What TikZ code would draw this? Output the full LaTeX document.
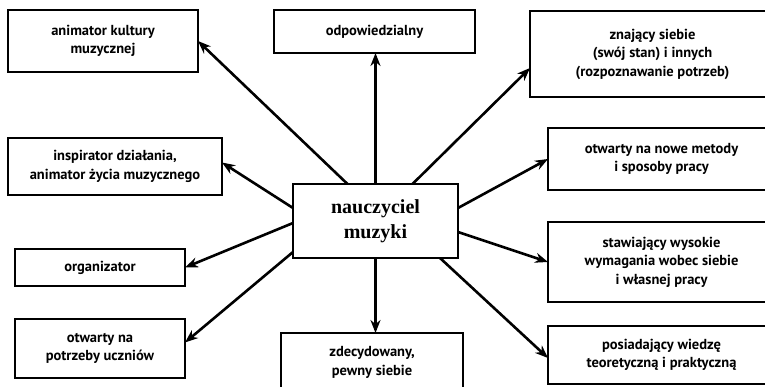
\documentclass[tikz,border=0pt]{standalone}
\usepackage{fontspec}
\setmainfont{PT Sans}
\newfontfamily\titlefont{Liberation Serif}
\usetikzlibrary{arrows.meta}
\newlength{\boxlinewidth}
\setlength{\boxlinewidth}{2.6pt}

\begin{document}
\begin{tikzpicture}[x=1pt,y=-1pt,
        cecha/.style={
            rectangle,draw,
            line width=\boxlinewidth,
            align=center,
            inner sep=0pt,outer sep=0pt,
            font=\bfseries\fontsize{14.5}{18.5}\selectfont,
            },
        strzalka/.style={line width=2.6pt,-{Stealth[length=13pt,width=10pt]}}
        ]
    \clip (0,0) rectangle (765,386);
    % lewa kolumna
    \node[cecha,minimum width=190pt,minimum height=62pt] (kultura) at (103,41) {animator kultury\\muzycznej};
    \node[cecha,minimum width=214pt,minimum height=57pt] (inspirator) at (115,166.5) {inspirator działania,\\animator życia muzycznego};
    \node[cecha,minimum width=170pt,minimum height=37pt] (organizator) at (100,267.5) {organizator};
    \node[cecha,minimum width=170pt,minimum height=59pt] (potrzeby) at (100,348.5) {otwarty na\\potrzeby uczniów};
    % srodek
    \node[cecha,minimum width=201pt,minimum height=43pt] (odpowiedzialny) at (374.5,31.5) {odpowiedzialny};
    \node[cecha,minimum width=165pt,minimum height=74pt,font=\titlefont\bfseries\fontsize{20}{25}\selectfont] (nauczyciel) at (375.5,221) {nauczyciel\\muzyki};
    \node[cecha,minimum width=182pt,minimum height=59pt] (zdecydowany) at (372,362.5) {zdecydowany,\\pewny siebie};
    % prawa kolumna
    \node[cecha,minimum width=245pt,minimum height=86pt] (znajacy) at (652.5,54) {znający siebie\\(swój stan) i innych\\(rozpoznawanie potrzeb)};
    \node[cecha,minimum width=227pt,minimum height=62pt] (metody) at (661.5,159) {otwarty na nowe metody\\i sposoby pracy};
    \node[cecha,minimum width=227pt,minimum height=80pt] (wymagania) at (661.5,262) {stawiający wysokie\\wymagania wobec siebie\\i własnej pracy};
    \node[cecha,minimum width=227pt,minimum height=58pt] (wiedza) at (661.5,355) {posiadający wiedzę\\teoretyczną i praktyczną};
    % strzalki
    \draw[strzalka] ([xshift=-28pt]nauczyciel.north) -- (kultura.east);
    \draw[strzalka] (nauczyciel.north) -- (nauczyciel.north |- odpowiedzialny.south);
    \draw[strzalka] ([xshift=37pt]nauczyciel.north) -- ([yshift=-14pt]znajacy.west);
    \draw[strzalka] ([yshift=13pt]nauczyciel.west) -- ([yshift=4pt]inspirator.east);
    \draw[strzalka] ([yshift=-2pt]nauczyciel.west) -- (organizator.east);
    \draw[strzalka] ([yshift=6pt]nauczyciel.south west) -- ([yshift=6pt]potrzeby.east);
    \draw[strzalka] (nauczyciel.south) -- (nauczyciel.south |- zdecydowany.north);
    \draw[strzalka] ([yshift=13pt]nauczyciel.east) -- (metody.west);
    \draw[strzalka] ([yshift=-11pt]nauczyciel.east) -- (wymagania.west);
    \draw[strzalka] ([xshift=-18pt]nauczyciel.south east) -- ([yshift=-3pt]wiedza.west);
\end{tikzpicture}
\end{document}
